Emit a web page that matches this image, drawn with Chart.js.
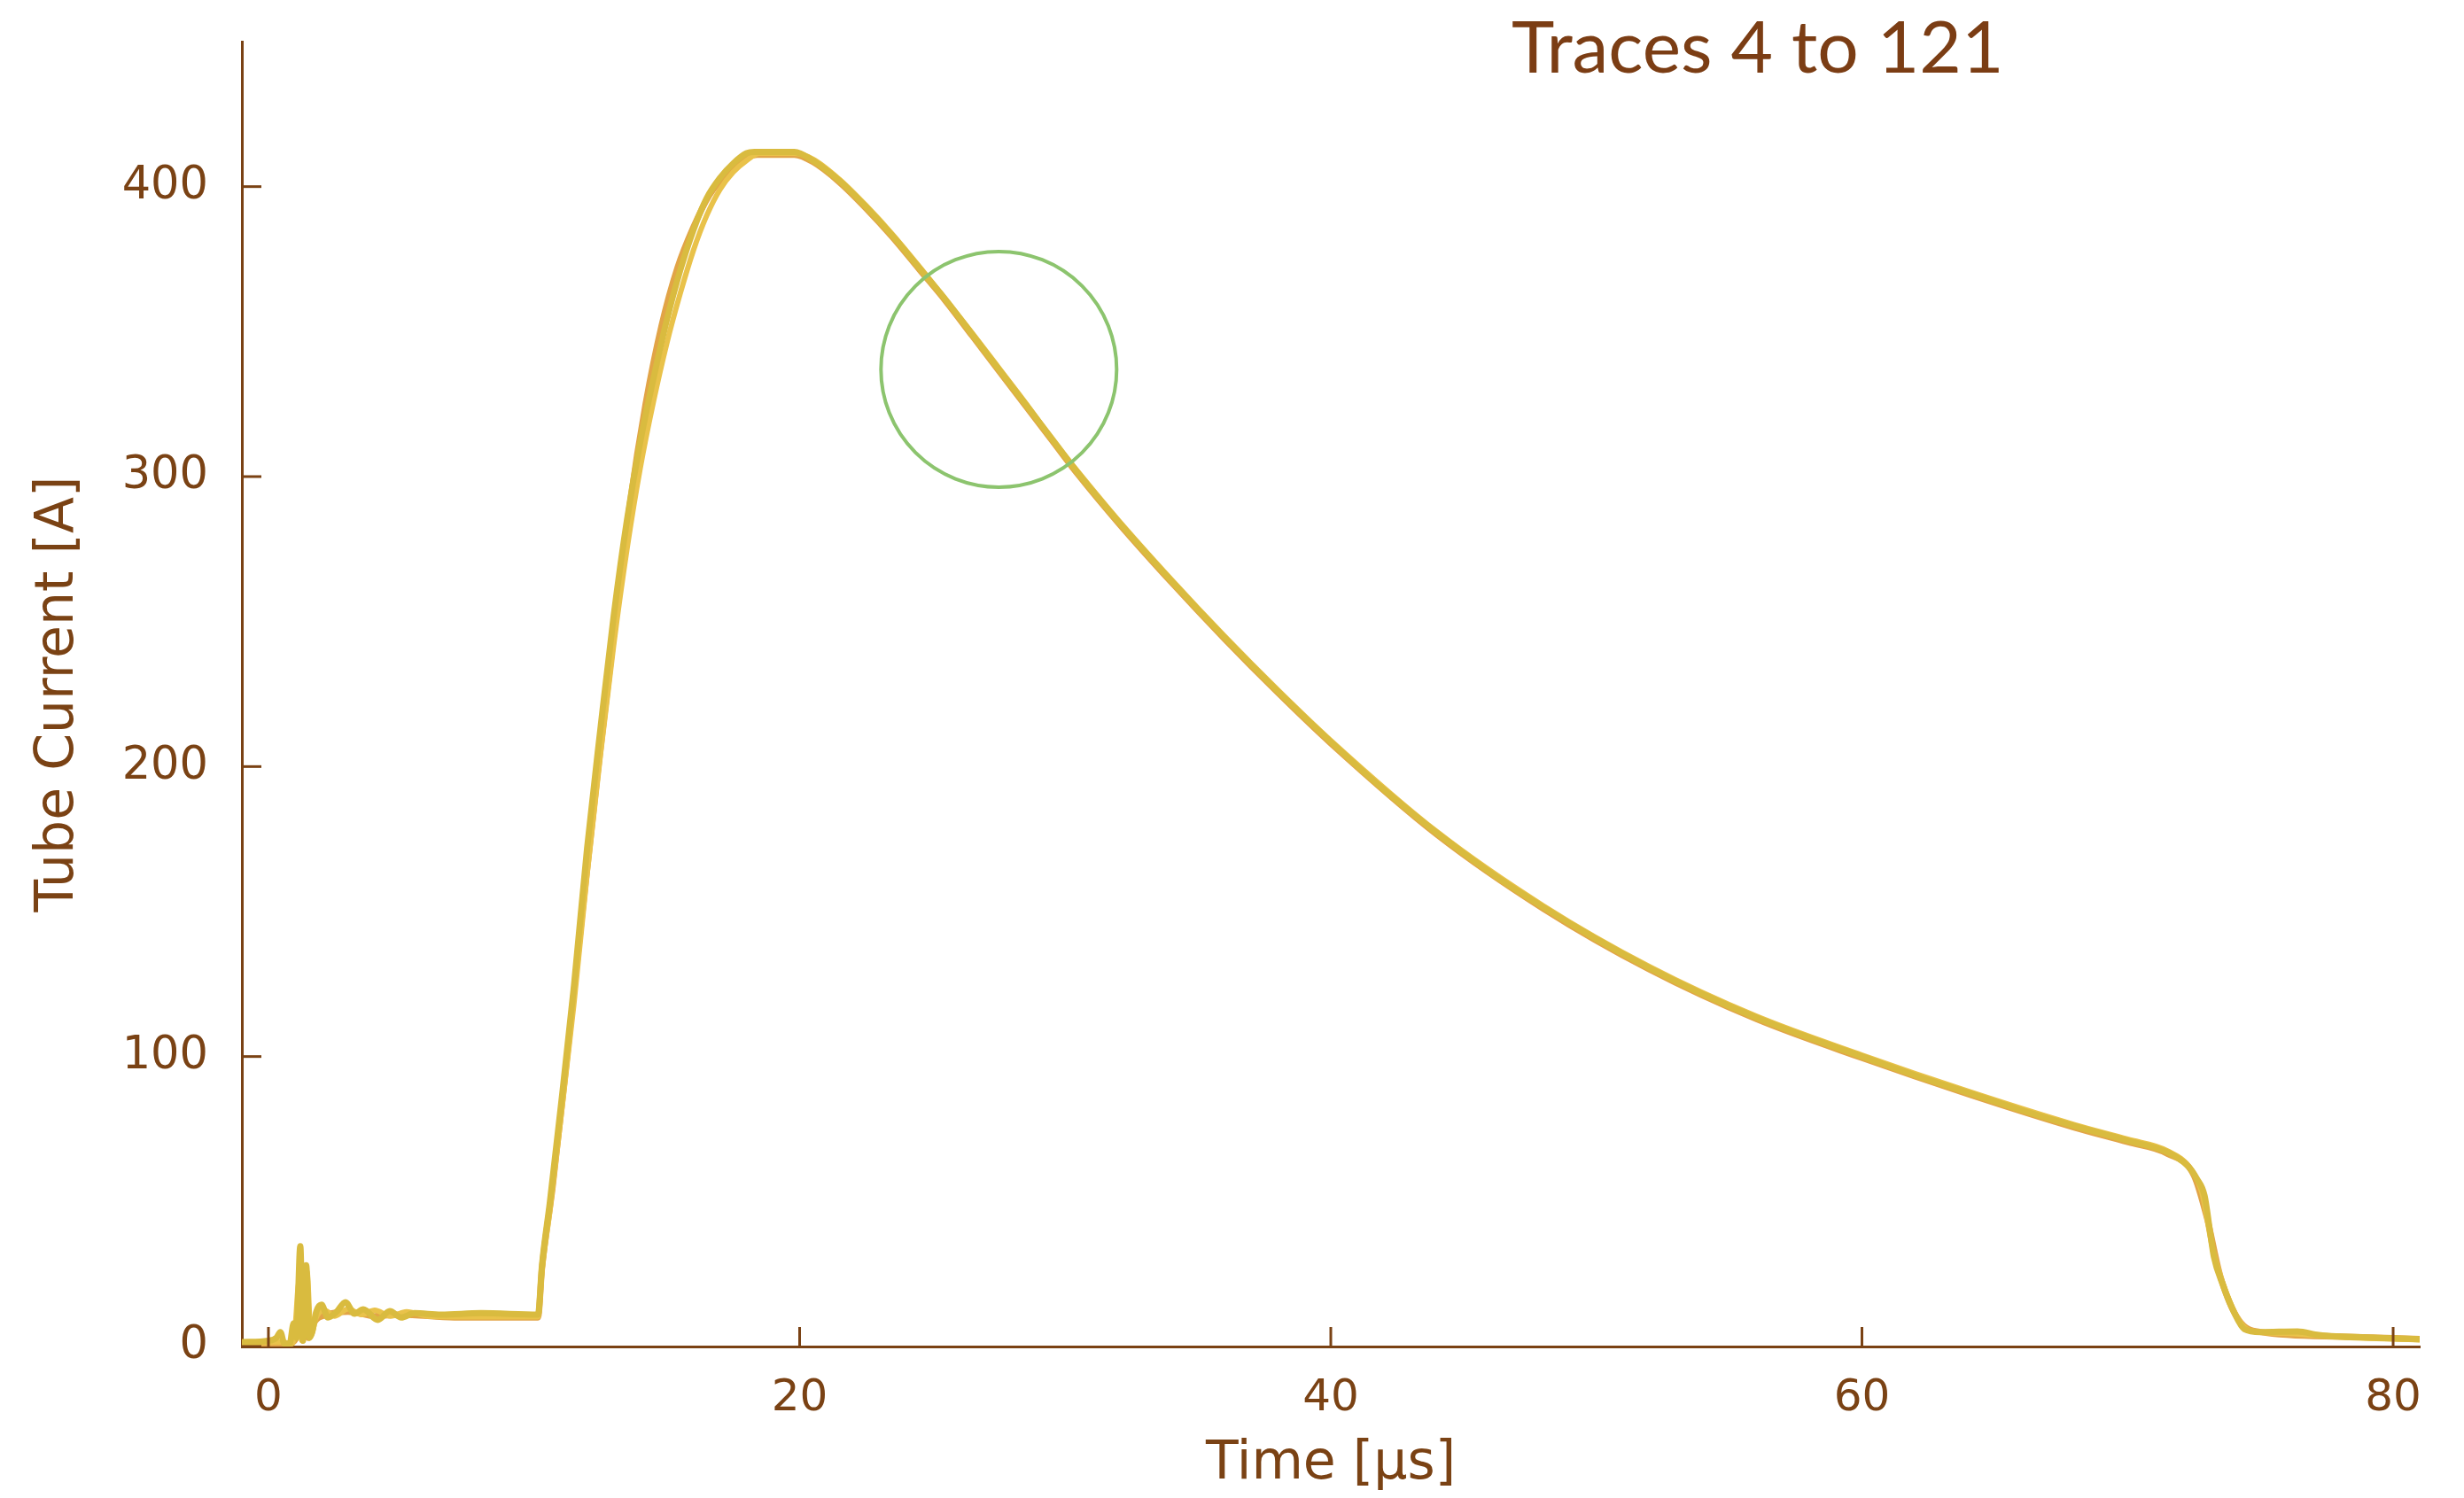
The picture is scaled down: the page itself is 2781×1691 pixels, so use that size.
<!DOCTYPE html>
<html>
<head>
<meta charset="utf-8">
<title>Traces 4 to 121</title>
<script src="https://cdn.jsdelivr.net/npm/chart.js@4.4.1/dist/chart.umd.min.js"></script>
<style>
    body { margin: 0; background: #ffffff; }
    #wrap { width: 2781px; height: 1691px; position: relative; }
</style>
</head>
<body>
<div id="wrap"><canvas id="myChart"></canvas></div>
<script>
// datos (tiempo en us, corriente en A)
const timeA = [-1, 0, 0.3, 0.45, 0.6, 0.8, 0.95, 1.05, 1.2, 1.3, 1.42, 1.55, 1.65, 1.8, 2.0, 2.24, 2.57, 2.9, 3.24, 3.57, 4.12, 4.57, 5.0, 5.5, 6.5, 8, 10.15,
    10.3, 10.6, 11.0, 11.5, 12.0, 12.5, 13.0, 13.5, 14.0, 14.5, 15.0, 15.5, 16.0, 16.5, 17.0, 17.5, 18.0, 18.3, 19.8,
    20.5, 21.5, 22.5, 23.5, 24.5, 25.5, 26.5, 27.5, 28.5, 29.5, 30.5, 32, 34, 36, 38, 40, 42, 44, 46, 48, 50, 52, 54, 56, 58, 60,
    62, 64, 66, 68, 70, 71.5, 72.3, 72.6, 72.9, 73.1, 73.25, 73.6, 74.0, 74.4, 75, 76.4, 77.2, 79.4, 81];
const currentA = [1.5, 2, 3, 5, 1, 1, 8, 3, 34.6, 2, 28, 3, 5, 12, 14.4, 10, 12, 15.3, 11.3, 12.8, 9.2, 12.2, 10, 11.5, 11, 11.5, 11,
    28, 50, 82, 124, 172, 213, 252, 285, 312, 334, 354, 371, 385, 396, 403, 408, 411.5, 412, 412,
    409, 402, 393, 383, 372, 361, 349, 337, 325, 313, 301, 284.5, 264, 244.5, 226, 208.5, 192, 177, 163.5, 151.5, 140.5, 130.5, 121.5, 113.5, 106.5, 100,
    93.5, 87.5, 81.5, 76, 71, 67, 62, 58, 52, 40, 31, 21, 12, 6, 5, 5.2, 4, 3, 2.5];

const timeB = [-1, 0.5, 0.9, 1.0, 1.15, 1.25, 1.45, 1.6, 1.8, 2.1, 2.5, 3.0, 3.5, 4.0, 4.6, 5.2, 6, 8, 10.15,
    10.3, 10.6, 11.0, 11.5, 12.0, 12.5, 13.0, 13.5, 14.0, 14.5, 15.0, 15.5, 16.0, 16.5, 17.0, 17.5, 18.0, 18.5, 19.8,
    20.5, 21.5, 22.5, 23.5, 24.5, 25.5, 26.5, 27.5, 28.5, 29.5, 30.5, 32, 34, 36, 38, 40, 44, 48, 52, 56, 60, 64, 68, 70, 71.5,
    72.4, 72.8, 73.2, 73.7, 74.2, 74.6, 76, 78, 81];
const currentB = [1, 1.5, 1, 6, 22, 2, 26, 4, 10, 12.5, 10.5, 13, 11, 12.5, 10.5, 12, 10.5, 10.2, 10.2,
    26, 47, 78, 118, 163, 204, 242, 275, 303, 326, 346, 363, 378, 390, 399, 405, 409, 411.5, 411.5,
    409.5, 402.5, 393.5, 383.5, 372.5, 361, 349.5, 337.5, 325.5, 313, 301.5, 285, 264.5, 245, 226.5, 209, 177.5, 152, 131, 114, 100.5, 88, 76.5, 71.5, 67.5,
    61, 53, 34, 19, 9, 5.5, 4.5, 3.2, 2.3];

const timeC = [-1, 0.8, 1.1, 1.25, 1.4, 1.5, 1.7, 2.2, 3, 4, 5, 7, 10.15,
    10.3, 10.7, 11.2, 11.8, 12.4, 13.0, 13.6, 14.2, 14.8, 15.4, 16.0, 16.6, 17.2, 17.8, 18.4, 19.8,
    20.5, 21.5, 22.5, 23.5, 24.5, 25.5, 26.5, 27.5, 28.5, 29.5, 30.5, 32, 34, 36, 38, 40, 44, 48, 52, 56, 60, 64, 68, 70, 71.5,
    72.5, 73, 73.5, 74.2, 75, 78, 81];
const currentC = [1, 1, 4, 10, 27, 3, 8, 11, 12, 10.5, 11, 10, 10,
    27, 55, 96, 148, 198, 245, 290, 325, 352, 372, 386, 397, 404, 409, 411, 411,
    408.5, 401.5, 392.5, 382.5, 371.5, 360.5, 348.5, 336.5, 324.5, 312.5, 300.5, 284, 263.5, 244, 225.5, 208, 176.5, 151, 130, 113, 99.5, 87, 75.5, 70.5, 66.5,
    59, 44, 24, 9, 5, 3.4, 2.6];

// marca del circulo verde
const circleT = [27.5];
const circleI = [337];

const xTicks = [0, 20, 40, 60, 80];
const yTicks = [0, 100, 200, 300, 400];

const brown = '#7a4214';

function puntos(t, v) {
    let out = [];
    for (let i = 0; i < t.length; i++) {
        out.push({ x: t[i], y: v[i] });
    }
    return out;
}

// ticks hacia adentro, dibujados con las escalas
const inwardTicks = {
    id: 'inwardTicks',
    afterDraw(chart) {
        const ctx = chart.ctx;
        const xs = chart.scales.x;
        const ys = chart.scales.y;
        const area = chart.chartArea;
        ctx.save();
        ctx.strokeStyle = brown;
        ctx.lineWidth = 3;
        xTicks.forEach(v => {
            let px = xs.getPixelForValue(v);
            ctx.beginPath();
            ctx.moveTo(px, area.bottom);
            ctx.lineTo(px, area.bottom - 22);
            ctx.stroke();
        });
        yTicks.forEach(v => {
            let py = ys.getPixelForValue(v);
            ctx.beginPath();
            ctx.moveTo(area.left, py);
            ctx.lineTo(area.left + 22, py);
            ctx.stroke();
        });
        ctx.restore();
    }
};

// titulo arriba a la derecha
const cornerTitle = {
    id: 'cornerTitle',
    afterDraw(chart) {
        const ctx = chart.ctx;
        ctx.save();
        ctx.fillStyle = '#7b3d14';
        ctx.font = '82px Lato';
        ctx.textAlign = 'left';
        ctx.textBaseline = 'alphabetic';
        ctx.fillText('Traces 4 to 121', 1706, 82);
        ctx.restore();
    }
};

function trace(label, t, v, color, width, order) {
    return {
        label: label,
        data: puntos(t, v),
        showLine: true,
        borderColor: color,
        borderWidth: width,
        pointRadius: 0,
        cubicInterpolationMode: 'monotone',
        order: order
    };
}

window.onload = () => {
    const ctx = document.getElementById('myChart').getContext('2d');
    const chart = new Chart(ctx, {
        type: 'scatter',
        data: {
            datasets: [
                {
                    label: 'circle',
                    data: puntos(circleT, circleI),
                    pointRadius: 133,
                    pointHoverRadius: 133,
                    borderColor: '#8cc46e',
                    borderWidth: 4,
                    backgroundColor: 'rgba(0,0,0,0)',
                    showLine: false,
                    order: 0
                },
                trace('trace A', timeA, currentA, '#d9bb3f', 7, 1),
                trace('trace B', timeB, currentB, '#e9c24a', 6, 2),
                trace('trace C', timeC, currentC, '#e2a447', 7, 3)
            ]
        },
        options: {
            responsive: true,
            maintainAspectRatio: false,
            animation: false,
            layout: { autoPadding: false, padding: { left: 0, right: 50, top: 47, bottom: 0 } },
            plugins: {
                legend: { display: false },
                tooltip: { enabled: false }
            },
            scales: {
                x: {
                    type: 'linear',
                    min: -1,
                    max: 81,
                    grid: { display: false },
                    border: { color: brown, width: 3 },
                    afterFit: (scale) => {
                        scale.height = 171;
                        scale.paddingLeft = 0;
                        scale.paddingRight = 0;
                    },
                    afterBuildTicks: (scale) => { scale.ticks = xTicks.map(v => ({ value: v })); },
                    ticks: {
                        color: brown,
                        padding: 21,
                        font: { family: 'DejaVu Sans', size: 50 }
                    },
                    title: {
                        display: true,
                        text: 'Time [µs]',
                        color: brown,
                        font: { family: 'DejaVu Sans', size: 60 },
                        padding: { top: 0, bottom: 2 }
                    }
                },
                y: {
                    type: 'linear',
                    min: 0,
                    max: 450,
                    grid: { display: false },
                    border: { color: brown, width: 3 },
                    afterFit: (scale) => {
                        scale.width = 273;
                        scale.paddingTop = 0;
                        scale.paddingBottom = 0;
                    },
                    afterBuildTicks: (scale) => { scale.ticks = yTicks.map(v => ({ value: v })); },
                    ticks: {
                        color: brown,
                        padding: 30,
                        font: { family: 'DejaVu Sans', size: 51 }
                    },
                    title: {
                        display: true,
                        text: 'Tube Current [A]',
                        color: brown,
                        font: { family: 'DejaVu Sans', size: 60 },
                        padding: { top: 30, bottom: 0 }
                    }
                }
            }
        },
        plugins: [inwardTicks, cornerTitle]
    });
};
</script>
</body>
</html>
